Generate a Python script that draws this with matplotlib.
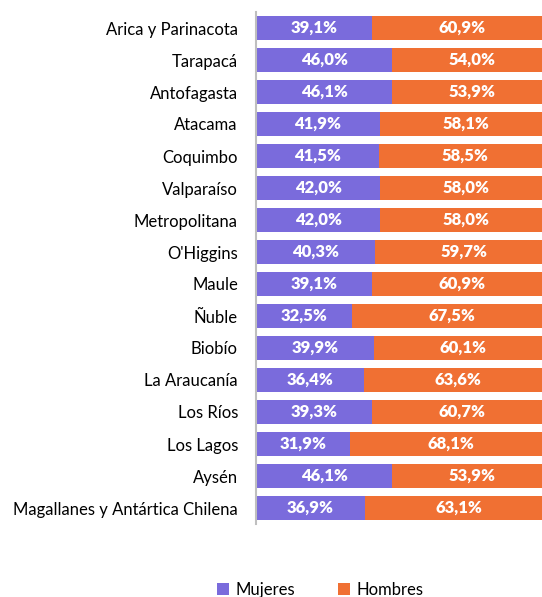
import matplotlib

matplotlib.use("Agg")
import matplotlib.pyplot as plt

regiones = [
    "Arica y Parinacota", "Tarapacá", "Antofagasta", "Atacama", "Coquimbo",
    "Valparaíso", "Metropolitana", "O'Higgins", "Maule", "Ñuble", "Biobío",
    "La Araucanía", "Los Ríos", "Los Lagos", "Aysén",
    "Magallanes y Antártica Chilena",
]
mujeres = [39.1, 46.0, 46.1, 41.9, 41.5, 42.0, 42.0, 40.3, 39.1, 32.5,
           39.9, 36.4, 39.3, 31.9, 46.1, 36.9]
hombres = [60.9, 54.0, 53.9, 58.1, 58.5, 58.0, 58.0, 59.7, 60.9, 67.5,
           60.1, 63.6, 60.7, 68.1, 53.9, 63.1]

C_MUJ = "#7A6BDC"
C_HOM = "#F07033"

plt.rcParams["font.family"] = ["Lato", "DejaVu Sans"]

fig = plt.figure(figsize=(5.42, 5.97), dpi=100)
# the bars run past the right edge of the picture, as in the original
ax = fig.add_axes([256 / 542, 1 - 524 / 597, 296 / 542, 512 / 597])

y = list(range(len(regiones)))
b1 = ax.barh(y, mujeres, height=0.75, color=C_MUJ, label="Mujeres")
b2 = ax.barh(y, hombres, left=mujeres, height=0.75, color=C_HOM, label="Hombres")

for bars, vals in ((b1, mujeres), (b2, hombres)):
    for bar, v in zip(bars, vals):
        ax.text(bar.get_x() + bar.get_width() / 2, bar.get_y() + bar.get_height() / 2,
                f"{v:.1f}%".replace(".", ","), ha="center", va="center",
                color="white", fontsize=12, fontweight="heavy")

ax.set_xlim(0, 100)
ax.set_ylim(len(regiones) - 0.5, -0.5)
ax.set_yticks(y)
ax.set_yticklabels(regiones, fontsize=12)
ax.tick_params(axis="y", length=0, pad=13)
ax.set_xticks([])
for s in ("top", "right", "bottom"):
    ax.spines[s].set_visible(False)
ax.spines["left"].set_color("#BFBFBF")
ax.spines["left"].set_linewidth(1.5)

fig.legend(handles=[b1, b2], loc="center", bbox_to_anchor=(320 / 542, 1 - 590 / 597),
           ncol=2, frameon=False, fontsize=12, handlelength=0.75, handleheight=0.75,
           columnspacing=2.6, handletextpad=0.35)

fig.savefig("out.png", dpi=100)
